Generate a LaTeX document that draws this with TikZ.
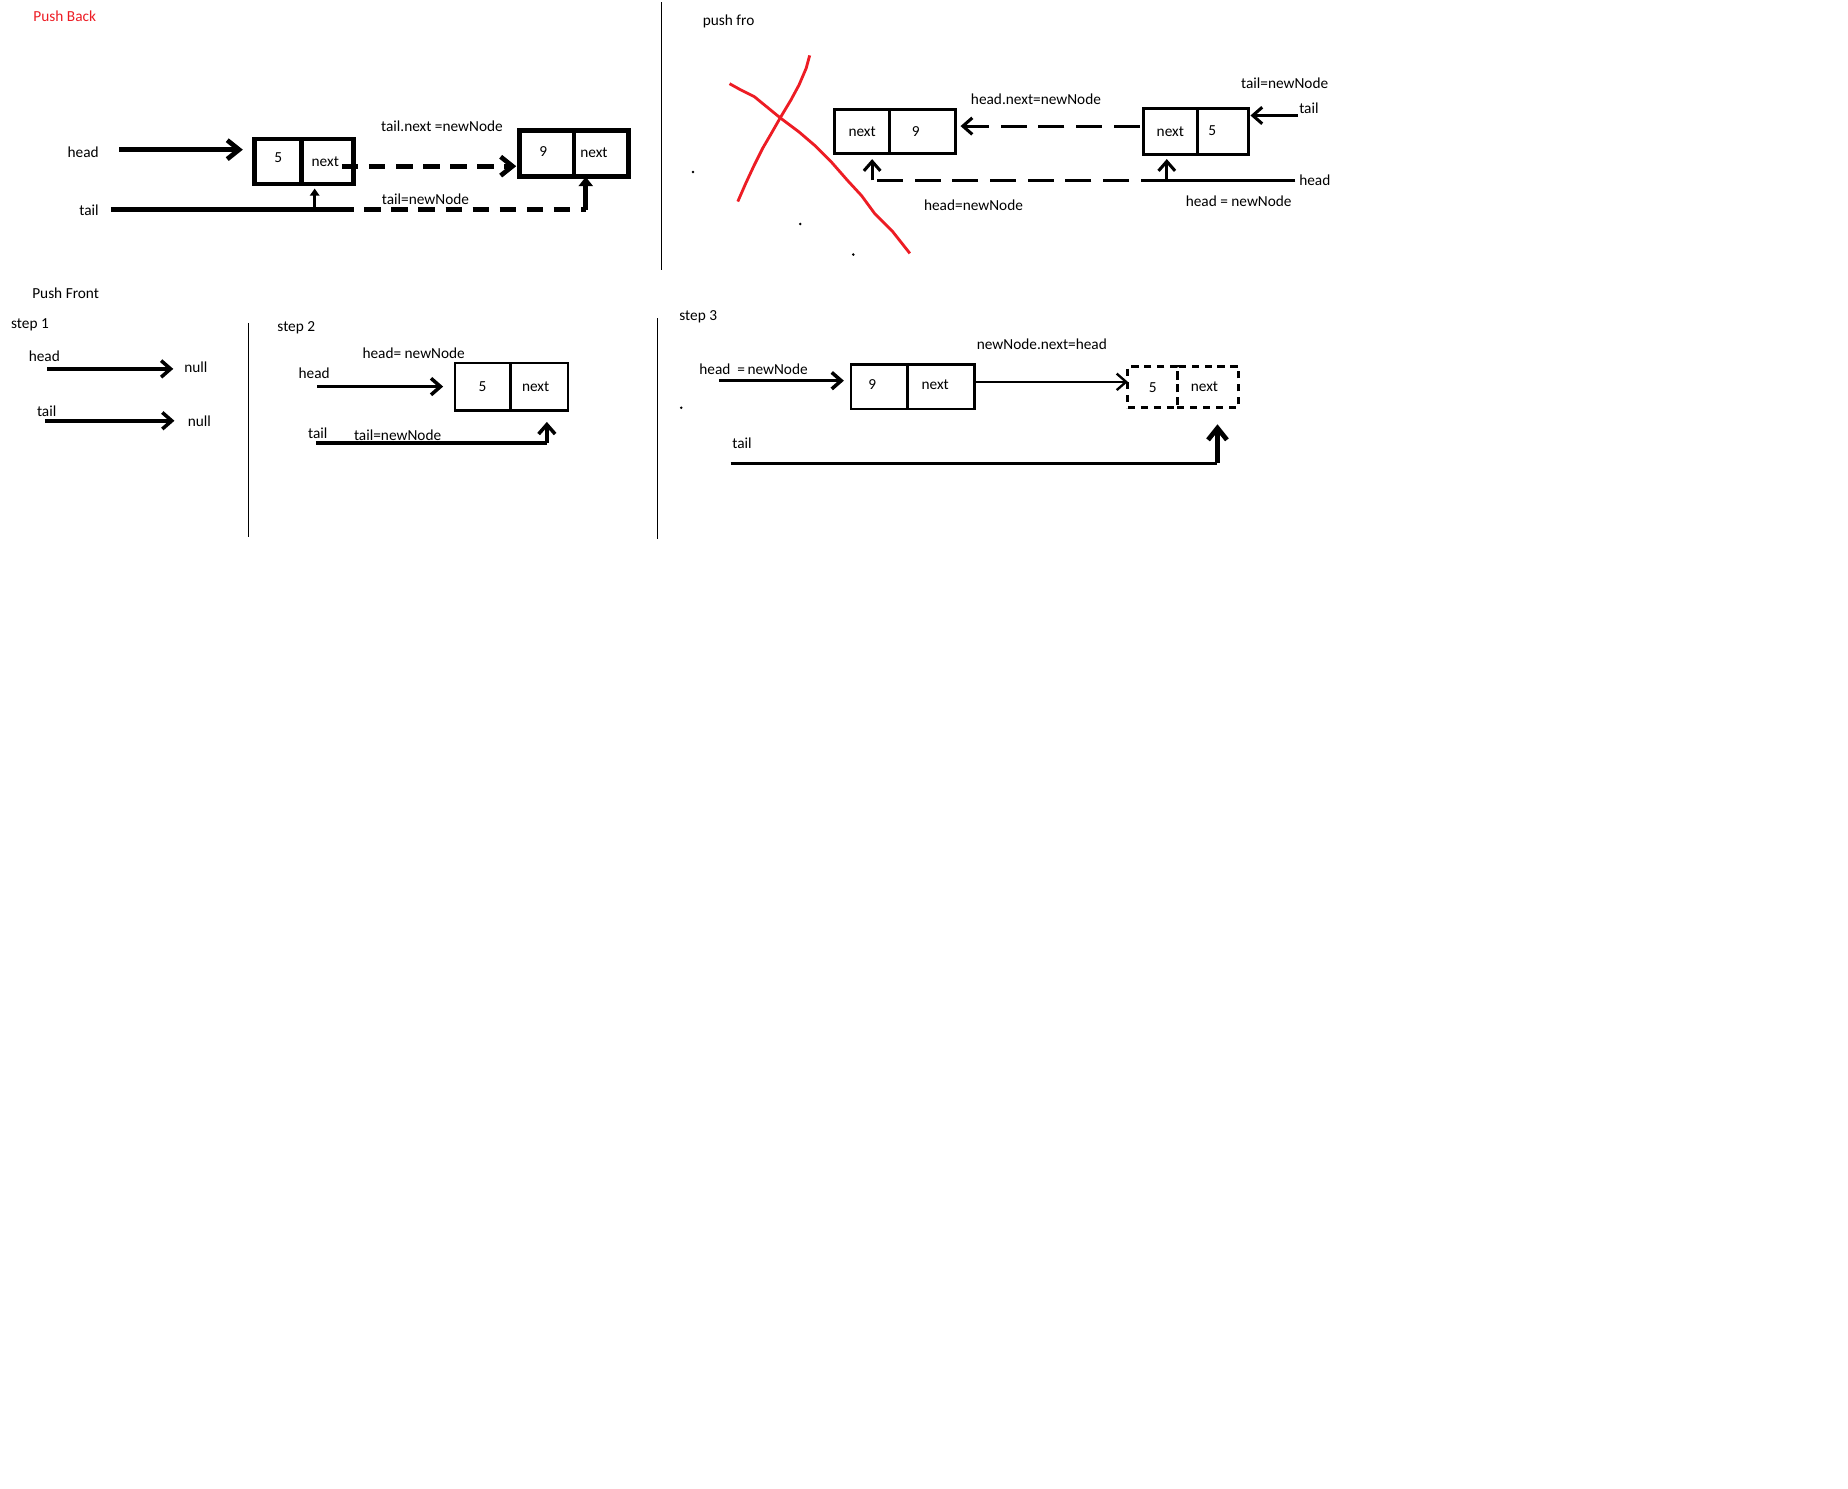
\documentclass[tikz,border=0pt]{standalone}
\usepackage{fontspec}
\setmainfont{Carlito}
\usetikzlibrary{arrows.meta, positioning, calc}

\definecolor{paintred}{RGB}{237,28,36}

\begin{document}
\begin{tikzpicture}[
    x=0.5pt, y=-0.5pt,
    font=\fontsize{6.5}{8}\selectfont,
    lbl/.style={inner sep=0pt, anchor=west},
    cell/.style={draw, inner sep=0pt, outer sep=0pt, line width=1.2pt},
    bigcell/.style={draw, inner sep=0pt, outer sep=0pt, line width=2pt},
    dashcell/.style={draw, inner sep=0pt, outer sep=0pt, line width=1.2pt, dash pattern=on 3pt off 2.5pt},
    ptr/.style={-{Straight Barb[length=4pt, width=7pt]}, line width=1.3pt},
    bigptr/.style={-{Straight Barb[length=5pt, width=8pt]}, line width=2pt},
    fatptr/.style={-{Triangle[length=4pt, width=6pt]}, line width=2pt},
    wire/.style={line width=1.3pt},
    bigdash/.style={dash pattern=on 7pt off 4.5pt},
    longdash/.style={dash pattern=on 11pt off 5pt},
    sep/.style={line width=0.5pt},
    speck/.style={fill=black}
]
    \useasboundingbox (0,0) rectangle (1568,1263);
    \fill[white] (0,0) rectangle (1568,1263);

    % Push Back
    \node[lbl, text=paintred] (pbtitle) at (28,14) {Push Back};
    \node[lbl] (pbheadlbl) at (57,129) {head};
    \node[lbl] (pbtaillbl) at (67,178) {tail};

    \node[bigcell, minimum width=20pt, minimum height=19pt] (pbA5) at (236,137) {\raisebox{3pt}{5}};
    \node[bigcell, minimum width=22pt, minimum height=19pt, right=0pt of pbA5] (pbAnext) {\hspace*{-2pt}\raisebox{-1pt}{next}};
    \node[bigcell, minimum width=23pt, minimum height=19.5pt] (pbB9) at (464,130.5) {\hspace*{-3pt}\raisebox{2pt}{9}};
    \node[bigcell, minimum width=23pt, minimum height=19.5pt, right=0pt of pbB9] (pbBnext) {\hspace*{-6pt}\raisebox{1pt}{next}};

    \node (pbnextlbl) at (375,107) {tail.next =newNode};
    \node (pbtaileq) at (361,169) {tail=newNode};

    \coordinate (pbheadstart) at (101,127);
    \draw[bigptr, shorten >=5pt] (pbheadstart) -- (pbheadstart -| pbA5.west);
    \draw[bigptr, bigdash] ([xshift=-5pt, yshift=-2pt]pbAnext.east) -- ([xshift=-1.5pt, yshift=-5.25pt]pbB9.west);

    \coordinate (pbtailstart) at (94,178);
    \coordinate (pbtailup) at (267,178);
    \coordinate (pbtailmid) at (286,178);
    \coordinate (pbtailcorner) at (497,178);
    \draw[line width=2pt] (pbtailstart) -- (pbtailmid);
    \draw[line width=2pt, bigdash] (pbtailmid) -- (pbtailcorner);
    \draw[fatptr] (pbtailcorner) -- (pbtailcorner |- pbBnext.south);
    \draw[-{Triangle[length=3pt, width=4pt]}, line width=1.5pt, shorten >=2pt] (pbtailup) -- (pbtailup |- pbAnext.south);

    \draw[sep] (561,2) -- (561,229);

    % push fro
    \node[lbl] (pftitle) at (596,18) {push fro};
    \draw[paintred, line width=1.2pt, line join=round] (619,71) -- (628,76) -- (640,82) -- (651,91) -- (662,100) -- (678,112) -- (692,124) -- (705,137) -- (719,153) -- (731,166) -- (742,181) -- (757,196) -- (772,215);
    \draw[paintred, line width=1.2pt, line join=round] (687,47) -- (684,58) -- (678,72) -- (671,85) -- (662,100) -- (654,114) -- (647,126) -- (640,140) -- (633,155) -- (626,171);
    \fill[speck] (588,146) circle (0.6pt);
    \fill[speck] (679,190) circle (0.6pt);
    \fill[speck] (724,216) circle (0.6pt);

    \node[cell, minimum width=23.5pt, minimum height=18.5pt] (pfCnext) at (731.5,111.5) {next};
    \node[cell, minimum width=28pt, minimum height=18.5pt, right=0pt of pfCnext] (pfC9) {\hspace*{-6pt}9};
    \node[cell, minimum width=23pt, minimum height=19.5pt] (pfDnext) at (993,111.5) {\raisebox{-1pt}{next}};
    \node[cell, minimum width=21.5pt, minimum height=19.5pt, right=0pt of pfDnext] (pfD5) {\hspace*{-9pt}\raisebox{1pt}{5}};

    \node (pfnextlbl) at (879,84) {head.next=newNode};
    \node (pftaileq) at (1090,71) {tail=newNode};
    \node[lbl] (pftaillbl) at (1102,92) {tail};
    \node[lbl] (pfheadlbl) at (1102,153) {head};
    \node (pfheadeqR) at (1051,171) {head = newNode};
    \node (pfheadeqL) at (826,174) {head=newNode};

    \draw[ptr, longdash] ([xshift=-1.5pt, yshift=2.25pt]pfDnext.west) -- ([xshift=2pt, yshift=2.25pt]pfC9.east);

    \coordinate (pftailstart) at (1101,98);
    \draw[ptr, shorten >=1pt] (pftailstart) -- (pftailstart -| pfD5.east);

    \coordinate (pfheadstart) at (1099,153);
    \coordinate (pfheadcorner) at (990,153);
    \coordinate (pfheadend) at (740,153);
    \draw[wire] (pfheadstart) -- (pfheadcorner);
    \draw[wire, longdash] (pfheadcorner) -- (pfheadend);
    \draw[ptr, shorten >=2pt] (pfheadcorner) -- (pfheadcorner |- pfDnext.south);
    \draw[ptr, shorten >=2.5pt] (pfheadend) -- (pfheadend |- pfCnext.south);

    % Push Front, step 1
    \node[lbl] (pftitle) at (27,249) {Push Front};
    \node[lbl] (s1lbl) at (9,276) {step 1};
    \node[lbl] (s1headlbl) at (24,302) {head};
    \node[lbl] (s1headnull) at (156,312) {null};
    \node[lbl] (s1taillbl) at (31,349) {tail};
    \node[lbl] (s1tailnull) at (159,357) {null};
    \coordinate (s1headstart) at (40,313);
    \coordinate (s1tailstart) at (38,357);
    \draw[ptr, line width=1.5pt, shorten >=4.5pt] (s1headstart) -- (s1headstart -| s1headnull.west);
    \draw[ptr, line width=1.5pt, shorten >=5.5pt] (s1tailstart) -- (s1tailstart -| s1tailnull.west);

    \draw[sep] (211,274) -- (211,456);

    % step 2
    \node[lbl] (s2lbl) at (235,278) {step 2};
    \node (s2headeq) at (351,300) {head= newNode};
    \node[lbl] (s2headlbl) at (253,317) {head};
    \node[lbl] (s2taillbl) at (261,368) {tail};
    \node[lbl] (s2taileq) at (300,369) {tail=newNode};

    \node[cell, minimum width=23.5pt, minimum height=20pt] (s2E5) at (409.5,328) {5};
    \node[cell, minimum width=24.5pt, minimum height=20pt, right=0pt of s2E5] (s2Enext) {\hspace*{-3pt}next};

    \coordinate (s2headstart) at (269,328);
    \draw[ptr, line width=1.5pt, shorten >=5pt] (s2headstart) -- (s2headstart -| s2E5.west);
    \coordinate (s2tailstart) at (268,376);
    \coordinate (s2tailcorner) at (464,376);
    \draw[wire, line width=1.5pt] (s2tailstart) -- (s2tailcorner);
    \draw[ptr, line width=1.5pt, shorten >=5pt] (s2tailcorner) -- (s2tailcorner |- s2Enext.south);

    \draw[sep] (558,270) -- (558,457);

    % step 3
    \node[lbl] (s3lbl) at (576,269) {step 3};
    \node[lbl] (s3headeq) at (593,313) {head\ \ =\,newNode};
    \node (s3nextlbl) at (884,292) {newNode.next=head};
    \node[lbl] (s3taillbl) at (621,376) {tail};
    \fill[speck] (578,346) circle (0.6pt);

    \node[cell, minimum width=24pt, minimum height=19pt] (s3F9) at (746,328) {\hspace*{-6pt}\raisebox{2pt}{9}};
    \node[cell, minimum width=28.5pt, minimum height=19pt, right=0pt of s3F9] (s3Fnext) {\hspace*{-5pt}\raisebox{2pt}{next}};
    \node[dashcell, minimum width=21pt, minimum height=17.5pt] (s3G5) at (978,328.5) {5};
    \node[dashcell, minimum width=26pt, minimum height=17.5pt, right=0pt of s3G5] (s3Gnext) {\hspace*{-3pt}next};

    \coordinate (s3headstart) at (610,323);
    \draw[ptr, line width=1.5pt, shorten >=3pt] (s3headstart) -- (s3headstart -| s3F9.west);
    \draw[ptr, line width=1pt] ([yshift=2pt]s3Fnext.east) -- ([yshift=2.25pt]s3G5.west);

    \coordinate (s3tailstart) at (620,393);
    \coordinate (s3tailcorner) at (1033,393);
    \draw[wire] (s3tailstart) -- (s3tailcorner);
    \draw[bigptr, shorten >=7pt] (s3tailcorner) -- (s3tailcorner |- s3Gnext.south);
\end{tikzpicture}
\end{document}
